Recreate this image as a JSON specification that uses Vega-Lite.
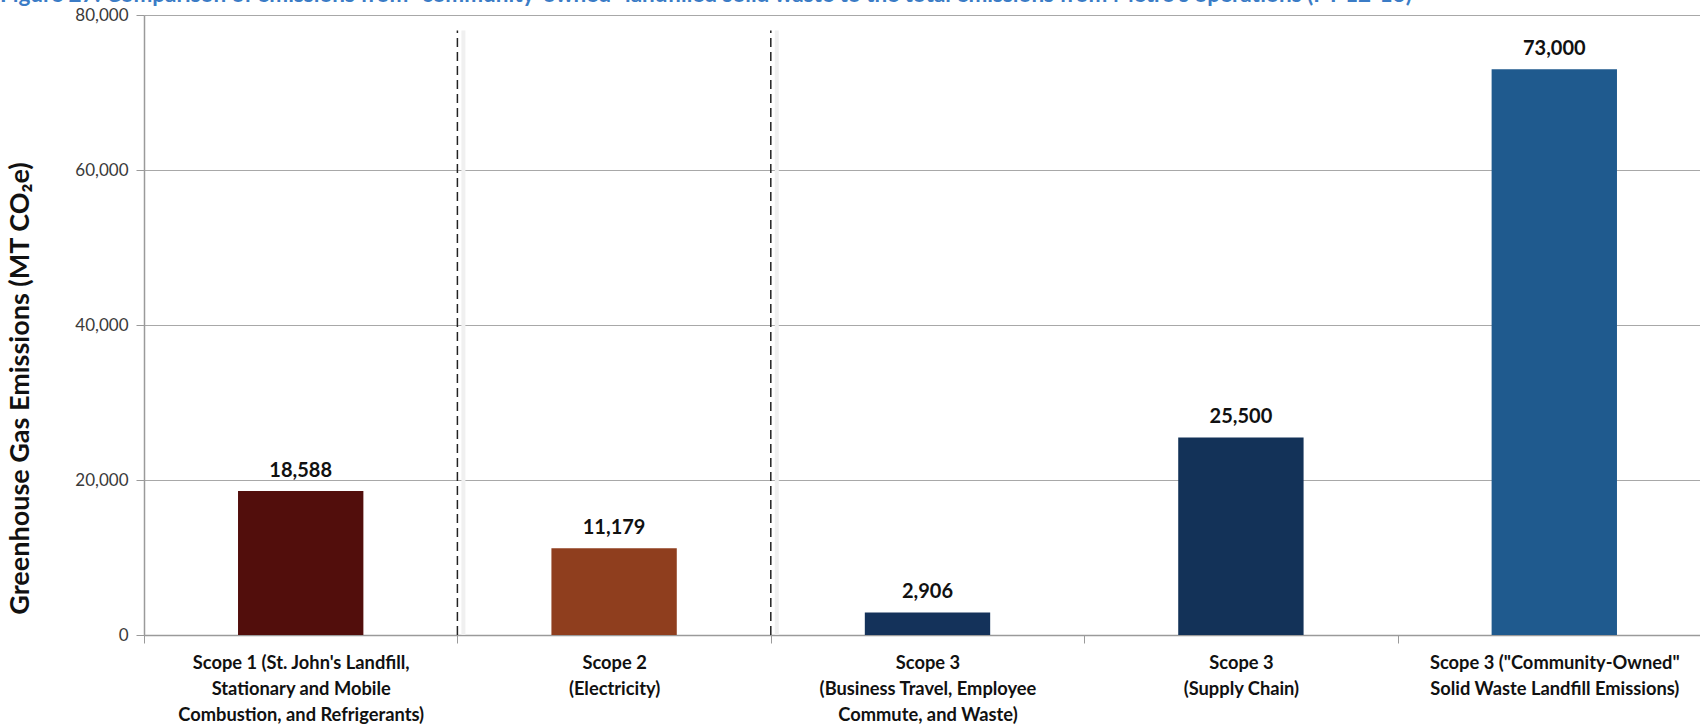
{
  "$schema": "https://vega.github.io/schema/vega-lite/v6.json",
  "width": 1556,
  "height": 620,
  "autosize": {"type": "none"},
  "padding": {"left": 144, "top": 15, "right": 0, "bottom": 91},
  "background": "white",
  "title": {
    "text": "Figure 27: Comparison of emissions from “community-owned” landfilled solid waste to the total emissions from Metro’s operations (FY 12-13)",
    "anchor": "start",
    "frame": "group",
    "baseline": "alphabetic",
    "dx": -144,
    "dy": 18,
    "offset": 0,
    "color": "#3B7CC6",
    "font": "Lato",
    "fontSize": 22.5,
    "fontWeight": "bold"
  },
  "config": {
    "view": {"stroke": null},
    "font": "Lato"
  },
  "datasets": {
    "emissions": [
      {"category": "Scope 1 (St. John's Landfill,|Stationary and Mobile|Combustion, and Refrigerants)", "value": 18588, "label": "18,588"},
      {"category": "Scope 2|(Electricity)", "value": 11179, "label": "11,179"},
      {"category": "Scope 3|(Business Travel, Employee|Commute, and Waste)", "value": 2906, "label": "2,906"},
      {"category": "Scope 3|(Supply Chain)", "value": 25500, "label": "25,500"},
      {"category": "Scope 3 (\"Community-Owned\"|Solid Waste Landfill Emissions)", "value": 73000, "label": "73,000"}
    ],
    "dividers": [
      {"category": "Scope 1 (St. John's Landfill,|Stationary and Mobile|Combustion, and Refrigerants)", "top": 78000, "base": 0},
      {"category": "Scope 2|(Electricity)", "top": 78000, "base": 0}
    ]
  },
  "encoding": {
    "x": {
      "field": "category",
      "type": "nominal",
      "sort": null,
      "scale": {
        "domain": [
          "Scope 1 (St. John's Landfill,|Stationary and Mobile|Combustion, and Refrigerants)",
          "Scope 2|(Electricity)",
          "Scope 3|(Business Travel, Employee|Commute, and Waste)",
          "Scope 3|(Supply Chain)",
          "Scope 3 (\"Community-Owned\"|Solid Waste Landfill Emissions)"
        ],
        "range": [0, 1567],
        "paddingInner": 0,
        "paddingOuter": 0
      },
      "axis": {
        "title": null,
        "labelAngle": 0,
        "labelExpr": "datum.value ? split(datum.value, '|') : ''",
        "labelFont": "Lato",
        "labelFontSize": 18.3,
        "labelFontWeight": "bold",
        "labelColor": "#111111",
        "labelLineHeight": 26,
        "labelLimit": 600,
        "labelPadding": 11,
        "labelBaseline": "top",
        "tickBand": "extent",
        "tickSize": 8,
        "tickColor": "#9a9a9a",
        "domainColor": "#9a9a9a",
        "domainWidth": 1.5,
        "grid": false
      }
    }
  },
  "layer": [
    {
      "data": {"name": "dividers"},
      "mark": {"type": "rule", "color": "#f0f0f0", "strokeWidth": 4, "xOffset": 6},
      "encoding": {
        "x": {"field": "category", "type": "nominal", "bandPosition": 1},
        "y": {"field": "base", "type": "quantitative"},
        "y2": {"field": "top"}
      }
    },
    {
      "data": {"name": "emissions"},
      "mark": {"type": "bar", "width": {"band": 0.4}},
      "encoding": {
        "y": {
          "field": "value",
          "type": "quantitative",
          "scale": {"domain": [0, 80000], "nice": false},
          "axis": {
            "title": "Greenhouse Gas Emissions (MT CO₂e)",
            "titleFont": "Lato",
            "titleFontSize": 27,
            "titleFontWeight": "bold",
            "titleColor": "#111111",
            "titleAngle": -90,
            "titleAlign": "center",
            "titleBaseline": "middle",
            "titleX": -124,
            "titleY": 373,
            "values": [0, 20000, 40000, 60000, 80000],
            "format": ",d",
            "labelFont": "Lato",
            "labelFontSize": 17,
            "labelColor": "#3a3a3a",
            "labelPadding": 8,
            "tickSize": 8,
            "tickColor": "#9a9a9a",
            "domainColor": "#9a9a9a",
            "domainWidth": 1.5,
            "gridColor": "#a8a8a8",
            "gridWidth": 1.2
          }
        },
        "color": {
          "field": "category",
          "type": "nominal",
          "legend": null,
          "scale": {
            "domain": [
              "Scope 1 (St. John's Landfill,|Stationary and Mobile|Combustion, and Refrigerants)",
              "Scope 2|(Electricity)",
              "Scope 3|(Business Travel, Employee|Commute, and Waste)",
              "Scope 3|(Supply Chain)",
              "Scope 3 (\"Community-Owned\"|Solid Waste Landfill Emissions)"
            ],
            "range": ["#520E0C", "#8F3E1E", "#14325A", "#133258", "#1F5A8E"]
          }
        }
      }
    },
    {
      "data": {"name": "emissions"},
      "mark": {"type": "text", "dy": -20, "fontSize": 20, "fontWeight": "bold", "font": "Lato", "color": "#111111"},
      "encoding": {
        "y": {"field": "value", "type": "quantitative"},
        "text": {"field": "label"}
      }
    },
    {
      "data": {"name": "dividers"},
      "mark": {"type": "rule", "color": "#222222", "strokeWidth": 1.5, "strokeDash": [9, 5]},
      "encoding": {
        "x": {"field": "category", "type": "nominal", "bandPosition": 1},
        "y": {"field": "base", "type": "quantitative"},
        "y2": {"field": "top"}
      }
    }
  ]
}
